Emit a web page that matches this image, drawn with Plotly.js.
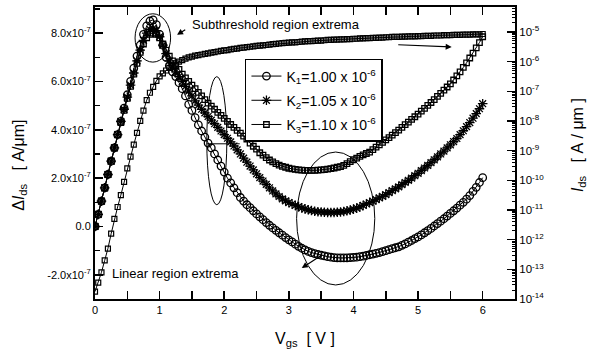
<!DOCTYPE html>
<html><head><meta charset="utf-8">
<script src="https://cdn.plot.ly/plotly-3.0.1.min.js"></script>
<style>html,body{margin:0;padding:0;background:#fff}#plot{width:595px;height:352px}</style>
</head><body><div id="plot"></div>
<script>
const vgs = [0.00,0.05,0.10,0.15,0.20,0.25,0.30,0.35,0.40,0.45,0.50,0.55,0.60,0.65,0.70,0.75,0.80,0.85,0.90,0.95,
1.00,1.05,1.10,1.15,1.20,1.25,1.30,1.35,1.40,1.45,1.50,1.55,1.60,1.65,1.70,1.75,1.80,1.85,1.90,1.95,
2.00,2.05,2.10,2.15,2.20,2.25,2.30,2.35,2.40,2.45,2.50,2.55,2.60,2.65,2.70,2.75,2.80,2.85,2.90,2.95,
3.00,3.05,3.10,3.15,3.20,3.25,3.30,3.35,3.40,3.45,3.50,3.55,3.60,3.65,3.70,3.75,3.80,3.85,3.90,3.95,
4.00,4.05,4.10,4.15,4.20,4.25,4.30,4.35,4.40,4.45,4.50,4.55,4.60,4.65,4.70,4.75,4.80,4.85,4.90,4.95,
5.00,5.05,5.10,5.15,5.20,5.25,5.30,5.35,5.40,5.45,5.50,5.55,5.60,5.65,5.70,5.75,5.80,5.85,5.90,5.95,6.00];

// ΔIds in units of 1e-7 A/um
const dIdsK1 = [0.0,0.5,1.05,1.6,2.15,2.7,3.25,3.8,4.35,4.9,5.45,6.0,6.55,7.05,7.5,7.95,8.3,8.5,8.55,8.35,
7.95,7.5,7.0,6.65,6.4,6.2,5.95,5.7,5.4,5.05,4.8,4.5,4.2,3.95,3.7,3.45,3.25,3.0,2.75,2.5,
2.25,2.0,1.8,1.6,1.4,1.2,1.05,0.9,0.78,0.65,0.52,0.4,0.28,0.16,0.05,-0.06,-0.16,-0.26,-0.36,-0.46,
-0.55,-0.64,-0.73,-0.82,-0.9,-0.97,-1.03,-1.08,-1.12,-1.16,-1.19,-1.22,-1.25,-1.27,-1.29,-1.3,-1.3,-1.3,-1.3,-1.29,
-1.28,-1.27,-1.25,-1.23,-1.2,-1.17,-1.14,-1.11,-1.08,-1.04,-1.0,-0.96,-0.92,-0.88,-0.84,-0.78,-0.72,-0.65,-0.58,-0.5,
-0.43,-0.35,-0.26,-0.17,-0.08,0.02,0.12,0.22,0.32,0.43,0.54,0.65,0.76,0.88,1.0,1.13,1.28,1.45,1.62,1.82,2.02];

const dIdsK2 = [0.0,0.5,1.05,1.6,2.15,2.7,3.25,3.8,4.35,4.85,5.35,5.85,6.35,6.85,7.3,7.7,8.0,8.15,8.2,8.1,
7.85,7.5,7.15,6.85,6.6,6.4,6.2,6.0,5.8,5.6,5.4,5.2,5.02,4.85,4.7,4.55,4.4,4.25,4.1,3.95,
3.8,3.65,3.5,3.33,3.17,3.0,2.83,2.66,2.5,2.34,2.18,2.02,1.88,1.74,1.6,1.47,1.35,1.24,1.14,1.06,
0.99,0.93,0.87,0.82,0.77,0.73,0.69,0.66,0.63,0.61,0.6,0.59,0.58,0.58,0.58,0.59,0.6,0.62,0.65,0.68,
0.72,0.76,0.81,0.87,0.93,0.99,1.05,1.11,1.18,1.25,1.32,1.4,1.48,1.56,1.64,1.73,1.82,1.91,2.0,2.1,
2.2,2.31,2.42,2.53,2.64,2.76,2.88,3.0,3.12,3.25,3.38,3.51,3.64,3.8,3.96,4.13,4.3,4.48,4.67,4.87,5.08];

const dIdsK3 = [0.0,0.5,1.05,1.6,2.15,2.7,3.25,3.8,4.3,4.8,5.3,5.8,6.3,6.75,7.2,7.55,7.8,7.95,8.0,7.95,
7.8,7.55,7.3,7.05,6.85,6.65,6.5,6.3,6.15,6.0,5.85,5.7,5.55,5.4,5.25,5.1,4.98,4.85,4.72,4.6,
4.47,4.35,4.22,4.1,3.98,3.86,3.74,3.62,3.45,3.32,3.2,3.05,2.95,2.85,2.75,2.67,2.6,2.54,2.49,2.45,
2.41,2.38,2.36,2.34,2.33,2.32,2.32,2.32,2.32,2.33,2.34,2.35,2.37,2.39,2.42,2.45,2.48,2.53,2.6,2.68,
2.76,2.83,2.9,2.96,3.02,3.08,3.18,3.28,3.38,3.48,3.58,3.68,3.78,3.88,3.99,4.1,4.21,4.32,4.43,4.54,
4.65,4.77,4.89,5.01,5.13,5.25,5.38,5.51,5.64,5.77,5.9,6.06,6.23,6.4,6.58,6.77,6.97,7.17,7.39,7.61,7.85];

// log10 of Ids [A/um] (right axis)
const idsLog10 = [-13.75,-13.45,-13.1,-12.7,-12.3,-11.8,-11.3,-10.9,-10.5,-10.05,-9.6,-9.2,-8.8,-8.4,-8.0,-7.65,-7.3,-7.05,-6.85,-6.65,
-6.5,-6.4,-6.3,-6.21,-6.13,-6.06,-6.0,-5.95,-5.9,-5.86,-5.83,-5.8,-5.78,-5.76,-5.74,-5.72,-5.7,-5.68,-5.66,-5.64,
-5.62,-5.61,-5.59,-5.57,-5.56,-5.54,-5.53,-5.51,-5.5,-5.49,-5.47,-5.46,-5.45,-5.44,-5.43,-5.41,-5.4,-5.39,-5.38,-5.37,
-5.36,-5.35,-5.35,-5.34,-5.33,-5.32,-5.31,-5.31,-5.3,-5.29,-5.29,-5.28,-5.27,-5.27,-5.26,-5.26,-5.25,-5.25,-5.24,-5.24,
-5.23,-5.23,-5.22,-5.22,-5.21,-5.21,-5.2,-5.2,-5.19,-5.19,-5.18,-5.18,-5.17,-5.17,-5.17,-5.16,-5.16,-5.15,-5.15,-5.15,
-5.14,-5.14,-5.13,-5.13,-5.13,-5.12,-5.12,-5.12,-5.11,-5.11,-5.11,-5.1,-5.1,-5.1,-5.09,-5.09,-5.09,-5.08,-5.08,-5.08,-5.07];

const seriesNames = ['K<sub>1</sub>=1.00 x 10<sup>-6</sup>','K<sub>2</sub>=1.05 x 10<sup>-6</sup>','K<sub>3</sub>=1.10 x 10<sup>-6</sup>'];
const leftTickVals = [-2,0,2,4,6,8];
const leftTickText = ['-2.0x10<sup>-7</sup>','0.0','2.0x10<sup>-7</sup>','4.0x10<sup>-7</sup>','6.0x10<sup>-7</sup>','8.0x10<sup>-7</sup>'];
const rightTickExp = [-14,-13,-12,-11,-10,-9,-8,-7,-6,-5];

const FONT = 'Liberation Sans, Arial, sans-serif';
const NB = '\u00A0';
const ids = idsLog10.map(v => Math.pow(10, v));

const traces = [
  {x: vgs, y: ids, yaxis: 'y2', mode: 'lines+markers', showlegend: false,
   line: {color: '#000', width: 1}, marker: {symbol: 'square-open', size: 5, color: '#000', line: {width: 1.2, color: '#000'}}},
  {x: vgs, y: dIdsK3, name: seriesNames[2], legendgroup: 'k3', legendrank: 3, mode: 'lines+markers',
   line: {color: '#000', width: 1}, marker: {symbol: 'square-open', size: 5.5, color: '#000', line: {width: 1.3, color: '#000'}}},
  {x: vgs, y: dIdsK2, name: seriesNames[1], legendgroup: 'k2', legendrank: 2, mode: 'lines+markers',
   line: {color: '#000', width: 1}, marker: {symbol: 'asterisk-open', size: 8, color: '#000', line: {width: 1.3, color: '#000'}}},
  {x: vgs, y: dIdsK1, name: seriesNames[0], legendgroup: 'k1', legendrank: 1, mode: 'lines+markers',
   line: {color: '#000', width: 1}, marker: {symbol: 'circle-open', size: 7.5, color: '#000', line: {width: 1.3, color: '#000'}}}
];

const axBase = {showgrid: false, zeroline: false, showline: true, linecolor: '#000', linewidth: 2,
  ticks: 'inside', tickcolor: '#000', tickwidth: 1.5, ticklen: 8, tickfont: {family: FONT, size: 11, color: '#000'}};

const layout = {
  width: 595, height: 352,
  margin: {l: 95, r: 80, t: 7, b: 53},
  paper_bgcolor: '#fff', plot_bgcolor: '#fff',
  font: {family: FONT, color: '#000'},
  xaxis: Object.assign({}, axBase, {range: [0, 6.5], tickvals: [0,1,2,3,4,5,6], ticktext: ['0','1','2','3','4','5','6'],
    mirror: 'allticks', minor: {tickvals: [0.5,1.5,2.5,3.5,4.5,5.5,6.5], ticklen: 4, tickcolor: '#000', tickwidth: 1.5, ticks: 'inside'}}),
  yaxis: Object.assign({}, axBase, {range: [-3.0, 9.08], tickvals: leftTickVals, ticktext: leftTickText,
    minor: {tickvals: [-3,-1,1,3,5,7,9], ticklen: 5, tickcolor: '#000', tickwidth: 1.5, ticks: 'inside'}}),
  yaxis2: Object.assign({}, axBase, {type: 'log', overlaying: 'y', side: 'right', range: [-14, -4.16],
    tickvals: rightTickExp.map(e => Math.pow(10, e)), ticktext: rightTickExp.map(e => '10<sup>' + e + '</sup>'),
    tickfont: {family: FONT, size: 11.5, color: '#000'},
    minor: {dtick: 'D1', ticklen: 3, tickcolor: '#000', tickwidth: 1, ticks: 'inside'}}),
  legend: {x: 0.357, y: 0.822, xanchor: 'left', yanchor: 'top', bgcolor: '#fff', bordercolor: '#000', borderwidth: 1.5,
    font: {family: FONT, size: 14, color: '#000'}, traceorder: 'grouped', tracegroupgap: 3},
  shapes: [
    {type: 'circle', xref: 'x', yref: 'y', x0: 0.62, x1: 1.17, y0: 6.8, y1: 8.8, line: {color: '#000', width: 1}},
    {type: 'circle', xref: 'x', yref: 'y', x0: 1.73, x1: 2.04, y0: 0.9, y1: 6.2, line: {color: '#000', width: 1}},
    {type: 'circle', xref: 'x', yref: 'y', x0: 3.12, x1: 4.33, y0: -2.42, y1: 3.08, line: {color: '#000', width: 1}},
    {type: 'line', xref: 'x', yref: 'y', x0: 1.73, x1: 2.24, y0: 3.42, y1: 3.42, line: {color: '#000', width: 1}}
  ],
  annotations: [
    {xref: 'paper', yref: 'paper', x: -0.179, y: 0.459, xanchor: 'center', yanchor: 'middle', textangle: -90, showarrow: false,
     text: 'Δ<i>I</i><sub>ds</sub>' + NB + NB + NB + '[' + NB + 'A/μm]', font: {family: FONT, size: 16, color: '#000'}},
    {xref: 'paper', yref: 'paper', x: 1.15, y: 0.527, xanchor: 'center', yanchor: 'middle', textangle: -90, showarrow: false,
     text: '<i>I</i><sub>ds</sub>' + NB + NB + NB + '[' + NB + 'A' + NB + '/' + NB + 'μm' + NB + ']', font: {family: FONT, size: 16, color: '#000'}},
    {xref: 'paper', yref: 'paper', x: 0.5, y: -0.14, xanchor: 'center', yanchor: 'middle', showarrow: false,
     text: 'V<sub>gs</sub>' + NB + NB + '[' + NB + 'V' + NB + ']', font: {family: FONT, size: 16, color: '#000'}},
    {xref: 'x', yref: 'y', x: 1.47, y: 8.34, xanchor: 'left', yanchor: 'middle', showarrow: false,
     text: 'Subthreshold region extrema', font: {family: FONT, size: 13, color: '#000'}},
    {xref: 'x', yref: 'y', x: 0.23, y: -1.93, xanchor: 'left', yanchor: 'middle', showarrow: false,
     text: 'Linear region extrema', font: {family: FONT, size: 13, color: '#000'}},
    {xref: 'x', yref: 'y', axref: 'x', ayref: 'y', x: 1.27, y: 7.93, ax: 1.42, ay: 8.18, text: '', showarrow: true,
     arrowhead: 2, arrowsize: 1, arrowwidth: 1.2, arrowcolor: '#000'},
    {xref: 'x', yref: 'y', axref: 'x', ayref: 'y', x: 3.2, y: -1.72, ax: 3.51, ay: -1.18, text: '', showarrow: true,
     arrowhead: 2, arrowsize: 1, arrowwidth: 1.2, arrowcolor: '#000'},
    {xref: 'x', yref: 'y', axref: 'x', ayref: 'y', x: 5.52, y: 7.43, ax: 4.67, ay: 7.52, text: '', showarrow: true,
     arrowhead: 2, arrowsize: 1, arrowwidth: 1.2, arrowcolor: '#000'}
  ]
};

Plotly.newPlot('plot', traces, layout, {staticPlot: true, displayModeBar: false});
</script>
</body></html>
